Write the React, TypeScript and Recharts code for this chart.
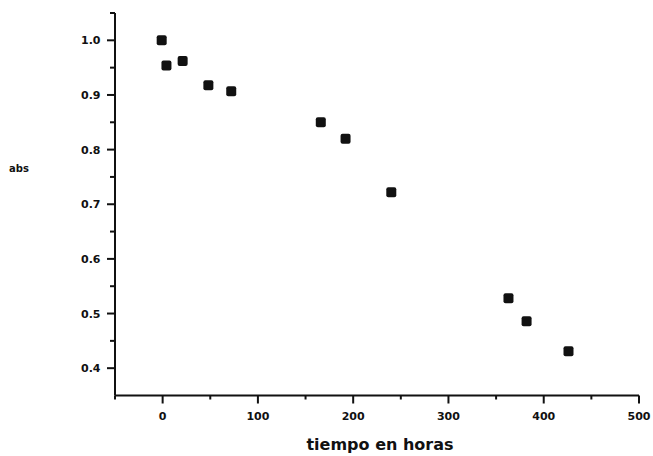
import { ScatterChart, Scatter, XAxis, YAxis } from 'recharts';

const hours = [-1, 4, 21, 48, 72, 166, 192, 240, 363, 382, 426];
const absorbance = [1.0, 0.954, 0.962, 0.918, 0.907, 0.85, 0.82, 0.722, 0.528, 0.486, 0.431];

const xTicks = [-50, 0, 50, 100, 150, 200, 250, 300, 350, 400, 450, 500];
const yTicks = [0.4, 0.45, 0.5, 0.55, 0.6, 0.65, 0.7, 0.75, 0.8, 0.85, 0.9, 0.95, 1.0, 1.05];

const data = hours.map((h, i) => ({ h, a: absorbance[i] }));

const INK = '#111';
const FONT = '"DejaVu Sans", sans-serif';

function XTick({ x, y, payload }: any) {
  const v = payload.value;
  const major = v % 100 === 0;
  return (
    <g>
      <line x1={x} x2={x} y1={y} y2={y + (major ? 8 : 4)} stroke={INK} strokeWidth={2} />
      {major && (
        <text x={x} y={y + 24} textAnchor="middle" fontFamily={FONT} fontWeight="bold" fontSize={11} fill={INK}>
          {v}
        </text>
      )}
    </g>
  );
}

function YTick({ x, y, payload }: any) {
  const v = payload.value;
  const major = Math.round(v * 100) % 10 === 0;
  return (
    <g>
      <line x1={x - (major ? 8 : 5)} x2={x} y1={y} y2={y} stroke={INK} strokeWidth={2} />
      {major && (
        <text x={x - 34} y={y + 4} textAnchor="start" fontFamily={FONT} fontWeight="bold" fontSize={11} fill={INK}>
          {v.toFixed(1)}
        </text>
      )}
    </g>
  );
}

function Square({ cx, cy }: any) {
  return <rect x={cx - 5} y={cy - 5} width={10} height={10} rx={2} fill={INK} />;
}

export default function App() {
  return (
    <div style={{ width: 653, height: 456, background: '#fff' }}>
      <style>{`body{margin:0}`}</style>
      <ScatterChart width={653} height={456} margin={{ top: 13, right: 14, bottom: 30.5, left: 65 }}>
        <XAxis
          type="number"
          dataKey="h"
          domain={[-50, 500]}
          ticks={xTicks}
          height={30}
          tickSize={0}
          tickMargin={0}
          tickLine={false}
          axisLine={{ stroke: INK, strokeWidth: 2 }}
          tick={<XTick />}
          label={{
            content: () => (
              <text x={380} y={450} textAnchor="middle" fontFamily={FONT} fontWeight="bold" fontSize={16} fill={INK}>
                tiempo en horas
              </text>
            ),
          }}
        />
        <YAxis
          type="number"
          dataKey="a"
          domain={[0.35, 1.05]}
          ticks={yTicks}
          width={50}
          tickSize={0}
          tickMargin={0}
          tickLine={false}
          axisLine={{ stroke: INK, strokeWidth: 2 }}
          tick={<YTick />}
          label={{
            content: () => (
              <text x={9} y={172} fontFamily={FONT} fontWeight="bold" fontSize={10} fill={INK}>
                abs
              </text>
            ),
          }}
        />
        <Scatter data={data} shape={<Square />} isAnimationActive={false} />
      </ScatterChart>
    </div>
  );
}
